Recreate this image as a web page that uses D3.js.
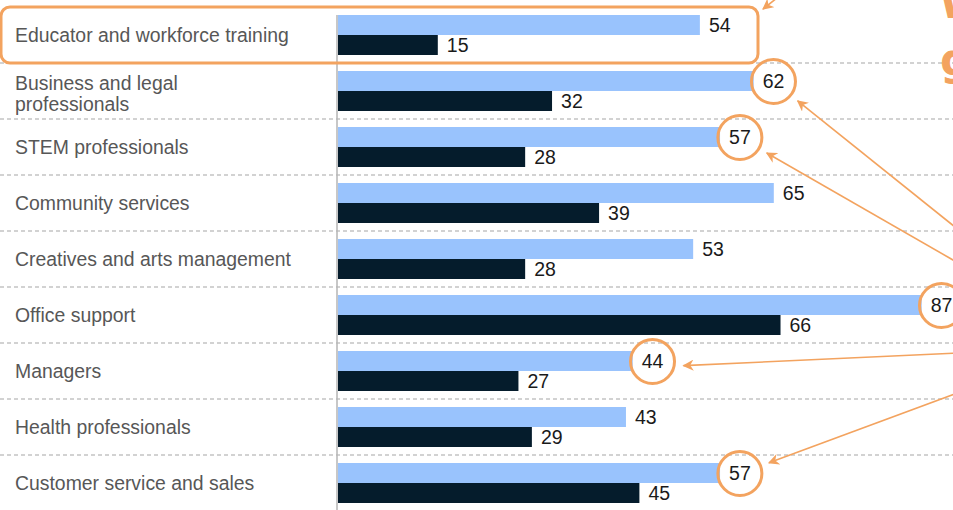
<!DOCTYPE html>
<html>
<head>
<meta charset="utf-8">
<script src="https://cdn.jsdelivr.net/npm/d3@7"></script>
<style>
  body { margin: 0; background: #fff; }
  svg { display: block; font-family: "Liberation Sans", Arial, sans-serif; }
</style>
</head>
<body>
<div id="canvas"></div>
<script>
// data
const categories = [
    "Educator and workforce training",
    "Business and legal|professionals",
    "STEM professionals",
    "Community services",
    "Creatives and arts management",
    "Office support",
    "Managers",
    "Health professionals",
    "Customer service and sales"
];
const lightValues = [54, 62, 57, 65, 53, 87, 44, 43, 57];
const darkValues = [15, 32, 28, 39, 28, 66, 27, 29, 45];
const circledRows = [1, 2, 5, 6, 8];

const width = 953, height = 510;
const lightColor = "#99c3fd",
    darkColor = "#051c2c",
    orange = "#f3a35f";
const valueFont = 19.5;

const svg = d3.select("#canvas").append("svg")
    .attr("width", width)
    .attr("height", height);

const x = d3.scaleLinear()
    .domain([0, 100])
    .range([337, 1009]);

const y = d3.scaleBand()
    .domain(categories)
    .range([7, 7 + 56 * categories.length]);

const barH = 20;

// dashed separators
svg.selectAll("line.sep")
    .data(categories.slice(1))
    .enter()
    .append("line")
    .attr("class", "sep")
    .attr("x1", 0)
    .attr("x2", width)
    .attr("y1", d => y(d))
    .attr("y2", d => y(d))
    .attr("stroke", "#a5a5a5")
    .attr("stroke-width", 1.2)
    .attr("stroke-dasharray", "4,3");

// axis line
svg.append("line")
    .attr("x1", x(0))
    .attr("x2", x(0))
    .attr("y1", y(categories[0]) + 8)
    .attr("y2", height)
    .attr("stroke", "#b5b5b5")
    .attr("stroke-width", 1.5);

const rows = svg.selectAll("g.row")
    .data(categories)
    .enter()
    .append("g")
    .attr("class", "row")
    .attr("transform", d => `translate(0,${y(d)})`);

rows.append("rect")
    .attr("x", x(0) + 1)
    .attr("y", 8)
    .attr("width", (d, i) => x(lightValues[i]) - x(0) - 1)
    .attr("height", barH)
    .attr("fill", lightColor);

rows.append("rect")
    .attr("x", x(0) + 1)
    .attr("y", 8 + barH)
    .attr("width", (d, i) => x(darkValues[i]) - x(0) - 1)
    .attr("height", barH)
    .attr("fill", darkColor);

// category labels
rows.each(function(d) {
    const lines = d.split("|");
    const t = d3.select(this).append("text")
        .attr("x", 15)
        .attr("fill", "#575757")
        .style("font-size", "19.4px");
    if (lines.length === 1) {
        t.attr("y", 35).text(lines[0]);
    } else {
        lines.forEach((l, k) => {
            t.append("tspan").attr("x", 15).attr("y", 27 + k * 20.5).text(l);
        });
    }
});

// value labels
rows.append("text")
    .attr("x", (d, i) => x(lightValues[i]) + 9)
    .attr("y", 25)
    .attr("fill", "#1a1a1a")
    .style("font-size", valueFont + "px")
    .text((d, i) => lightValues[i]);

rows.append("text")
    .attr("x", (d, i) => x(darkValues[i]) + 9)
    .attr("y", 45)
    .attr("fill", "#1a1a1a")
    .style("font-size", valueFont + "px")
    .text((d, i) => darkValues[i]);

// ---- orange annotations ----
const ann = svg.append("g");

svg.append("defs").append("marker")
    .attr("id", "head")
    .attr("viewBox", "0 0 10 10")
    .attr("refX", 9)
    .attr("refY", 5)
    .attr("markerWidth", 7)
    .attr("markerHeight", 7)
    .attr("orient", "auto")
    .append("path")
    .attr("d", "M0,0 L10,5 L0,10 L3,5 Z")
    .attr("fill", orange);

// highlight box round first row
ann.append("rect")
    .attr("x", 1)
    .attr("y", y(categories[0]))
    .attr("width", 757)
    .attr("height", y.bandwidth())
    .attr("rx", 9)
    .attr("fill", "none")
    .attr("stroke", orange)
    .attr("stroke-width", 3);

// circles round selected light values
const circleR = 22;
const circleCenters = circledRows.map(i => {
    const w = String(lightValues[i]).length * 0.556 * valueFont;
    return { i, cx: x(lightValues[i]) + 9 + w / 2, cy: y(categories[i]) + 18.5 };
});

ann.selectAll("circle")
    .data(circleCenters)
    .enter()
    .append("circle")
    .attr("cx", d => d.cx)
    .attr("cy", d => d.cy)
    .attr("r", circleR)
    .attr("fill", "none")
    .attr("stroke", orange)
    .attr("stroke-width", 3);

// arrows from off-chart note on the right
const arrowStarts = [
    { row: 1, sx: 960, sy: 231 },
    { row: 2, sx: 960, sy: 264 },
    { row: 6, sx: 960, sy: 353 },
    { row: 8, sx: 960, sy: 392 }
];

arrowStarts.forEach(a => {
    const c = circleCenters.find(d => d.i === a.row);
    const dx = a.sx - c.cx, dy = a.sy - c.cy;
    const len = Math.sqrt(dx * dx + dy * dy);
    const off = circleR + 9;
    ann.append("line")
        .attr("x1", a.sx)
        .attr("y1", a.sy)
        .attr("x2", c.cx + dx / len * off)
        .attr("y2", c.cy + dy / len * off + (a.row === 6 ? 5 : 0))
        .attr("stroke", orange)
        .attr("stroke-width", 1.6)
        .attr("marker-end", "url(#head)");
});

// arrow into the highlight box corner
ann.append("line")
    .attr("x1", 782)
    .attr("y1", -6)
    .attr("x2", 763)
    .attr("y2", 9)
    .attr("stroke", orange)
    .attr("stroke-width", 1.6)
    .attr("marker-end", "url(#head)");

// cut-off handwritten note at top right
ann.append("text")
    .attr("x", 939)
    .attr("y", 18)
    .attr("fill", orange)
    .style("font-family", "'DejaVu Sans', sans-serif")
    .style("font-size", "44px")
    .style("font-weight", "bold")
    .text("W");

ann.append("text")
    .attr("x", 940)
    .attr("y", 75)
    .attr("fill", orange)
    .style("font-family", "'DejaVu Sans', sans-serif")
    .style("font-size", "44px")
    .style("font-weight", "bold")
    .text("g");
</script>
</body>
</html>
